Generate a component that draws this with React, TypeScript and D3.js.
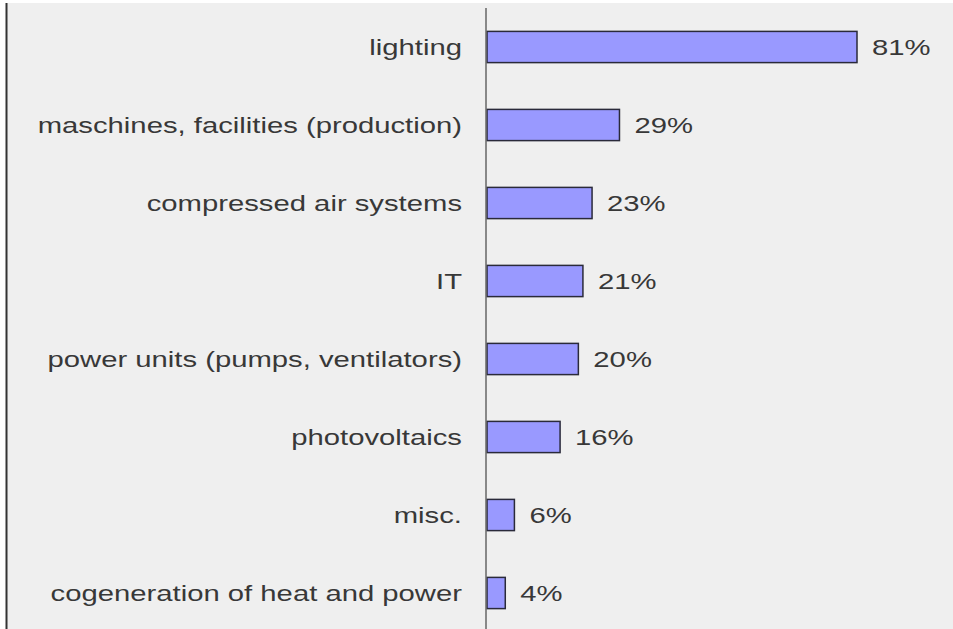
import * as d3 from "d3";

const categories = [
  "lighting",
  "maschines, facilities (production)",
  "compressed air systems",
  "IT",
  "power units (pumps, ventilators)",
  "photovoltaics",
  "misc.",
  "cogeneration of heat and power",
];
const values = [81, 29, 23, 21, 20, 16, 6, 4];

const W = 953;
const H = 629;
const AXIS_X = 487;
// the reference text is horizontally stretched
const STRETCH = 1.33;

export default function App() {
  const x = d3.scaleLinear().domain([0, 81]).range([AXIS_X, 857]);
  const y = d3
    .scaleBand<string>()
    .domain(categories)
    .range([8, 632])
    .paddingInner(0.6)
    .paddingOuter(0.3);
  const bw = y.bandwidth();

  return (
    <svg
      width={W}
      height={H}
      style={{ position: "absolute", left: 0, top: 0, background: "#fff" }}
      fontFamily="'Liberation Sans', Arial, sans-serif"
    >
      <rect x={7} y={3} width={W - 7} height={H - 3} fill="#efefef" />
      <line x1={6.5} x2={6.5} y1={3} y2={H} stroke="#333" strokeWidth={2} />
      {categories.map((c, i) => {
        const y0 = y(c) ?? 0;
        const cy = y0 + bw / 2;
        return (
          <g key={c}>
            <rect
              x={x(0)}
              y={y0}
              width={x(values[i]) - x(0)}
              height={bw}
              fill="#9999ff"
              stroke="#2a2a3a"
              strokeWidth={1.5}
            />
            <text
              transform={`translate(462,${cy}) scale(${STRETCH},1)`}
              dy="0.35em"
              textAnchor="end"
              fontSize={22}
              fill="#383838"
            >
              {c}
            </text>
            <text
              transform={`translate(${x(values[i]) + 15},${cy}) scale(${STRETCH},1)`}
              dy="0.35em"
              fontSize={22}
              fill="#383838"
            >
              {values[i]}%
            </text>
          </g>
        );
      })}
      <line x1={AXIS_X - 1} x2={AXIS_X - 1} y1={8} y2={H} stroke="#666" strokeWidth={1.5} />
    </svg>
  );
}
